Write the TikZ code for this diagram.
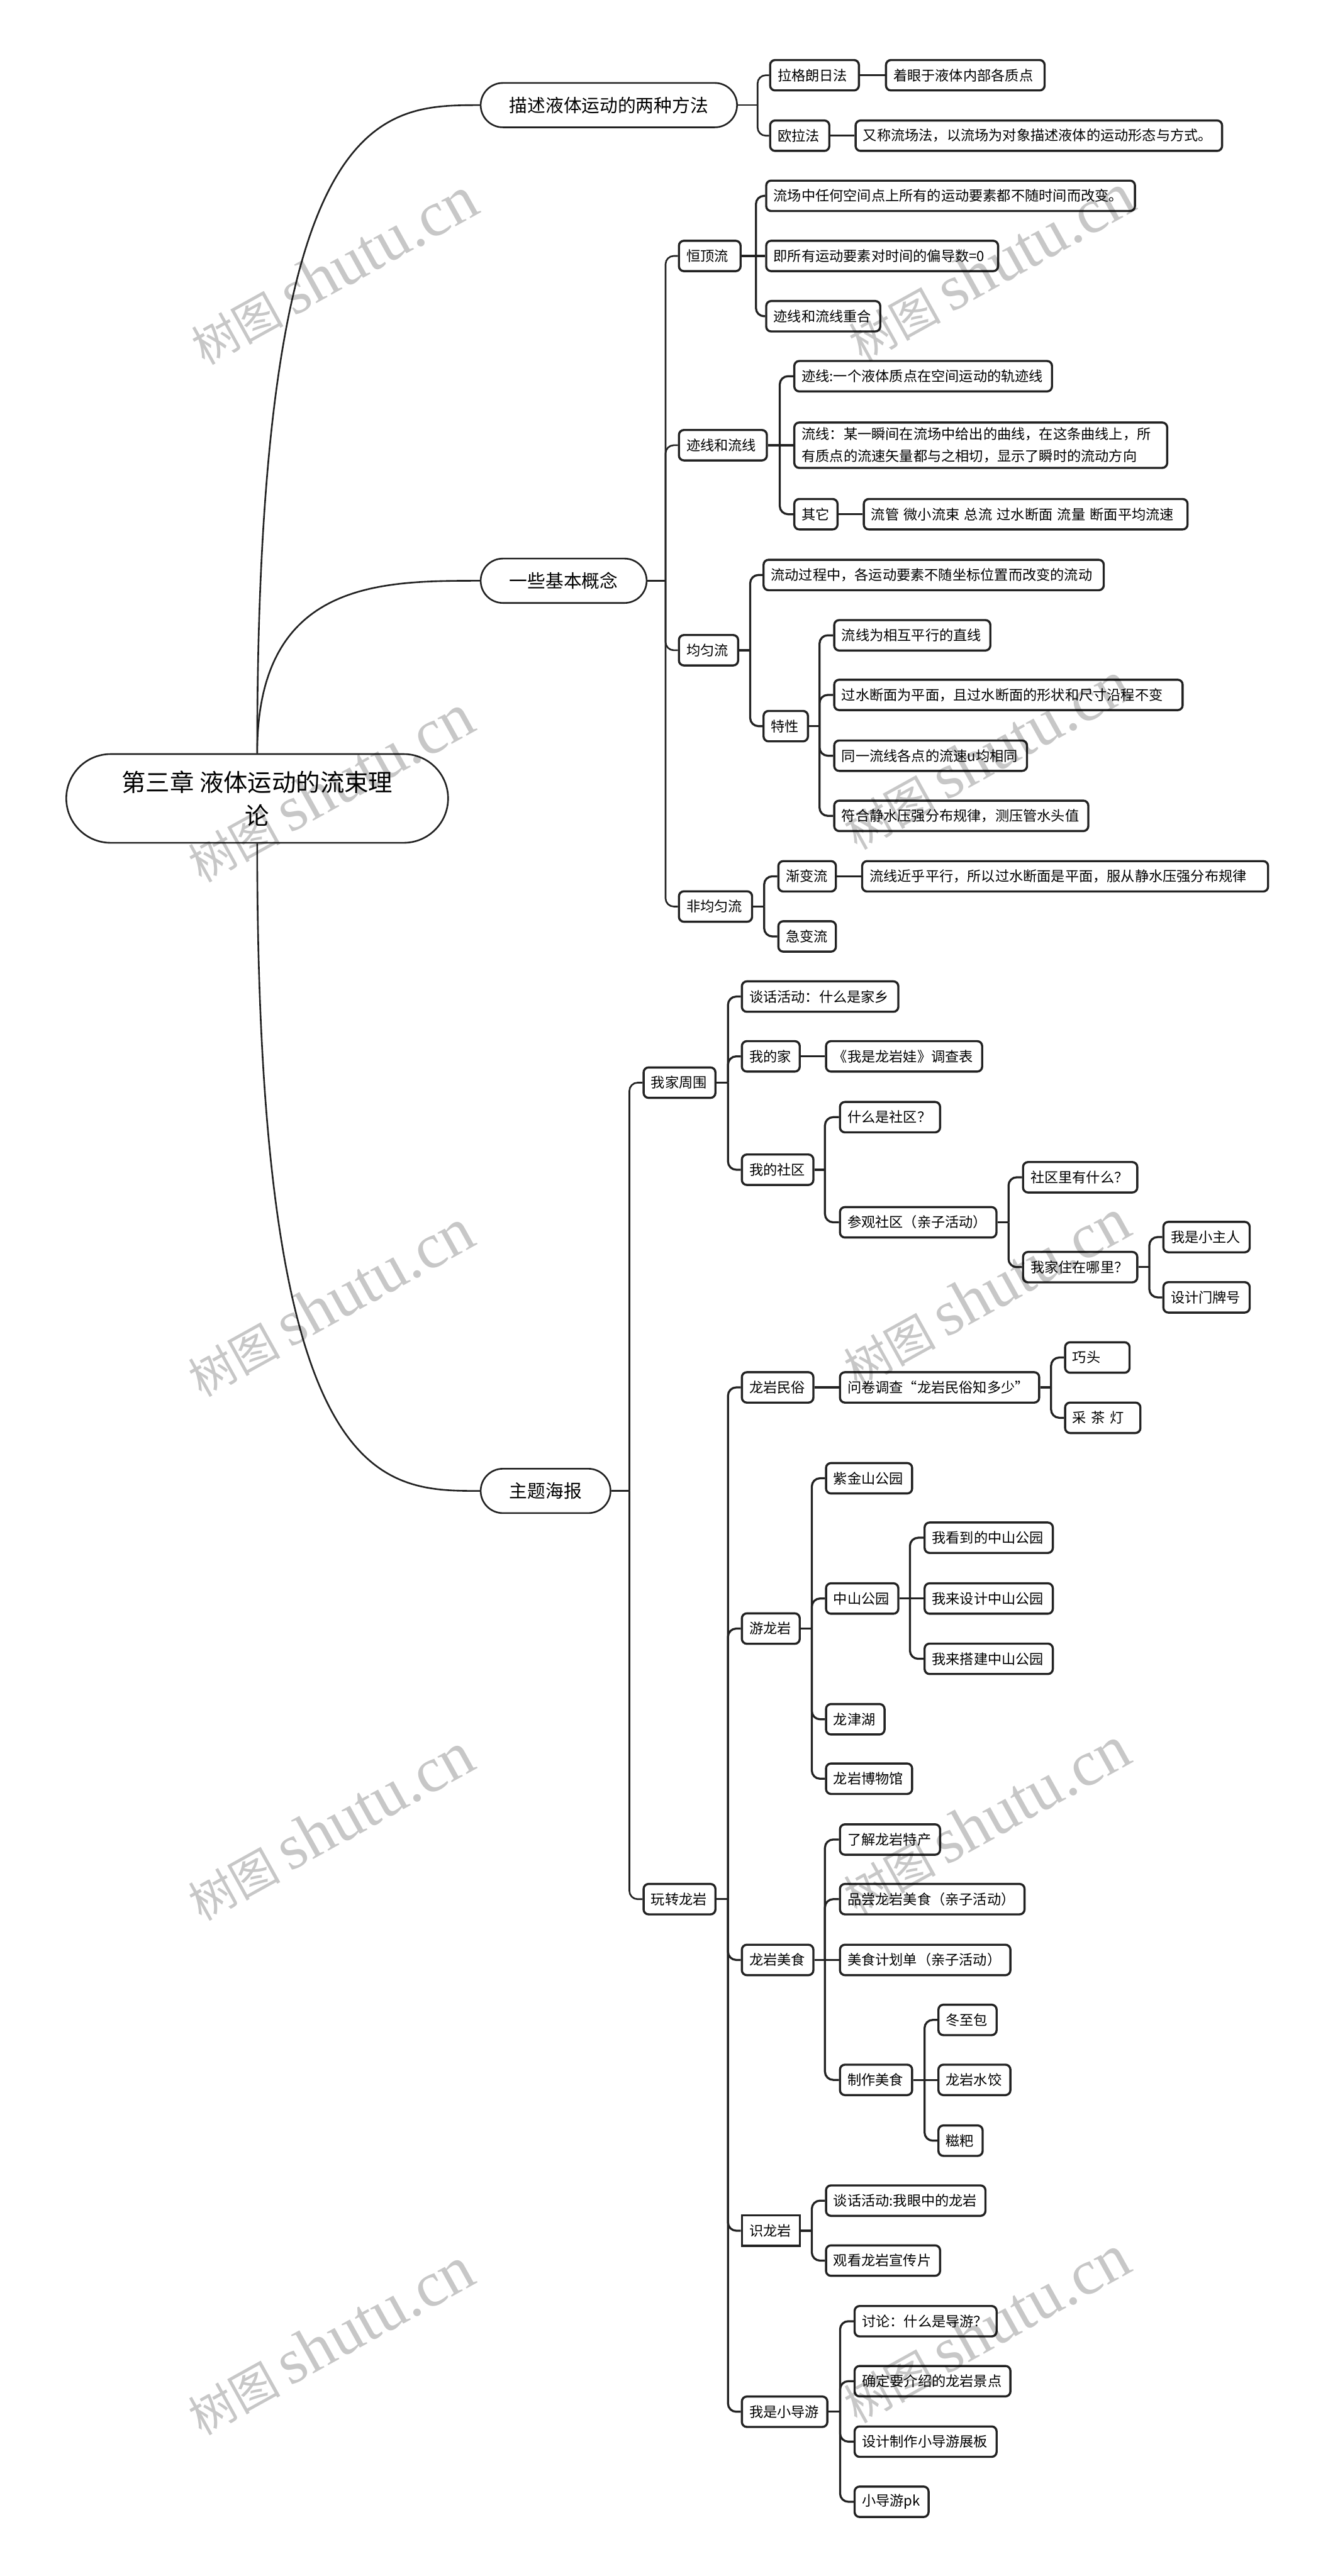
\documentclass[tikz,border=0pt]{standalone}
\usepackage{fontspec}
\setmainfont{Noto Sans CJK SC}
\newfontfamily\wmlatin{Liberation Serif}
\usetikzlibrary{shapes.misc,calc}
\definecolor{ink}{HTML}{222222}
\tikzset{
  box/.style={draw=ink, line width=1.3pt, fill=white, rounded corners=3pt,
    font=\fontsize{8.5}{13.5}\selectfont, inner xsep=4.5pt, inner ysep=3pt,
    minimum height=18.5pt, align=left, anchor=west, text=black},
  sq/.style={rounded corners=0pt},
  pill/.style={draw=ink, line width=1pt, fill=white, rounded rectangle,
    font=\fontsize{11}{13}\selectfont, minimum height=27pt, inner xsep=2pt,
    anchor=west, align=center},
  conn/.style={draw=ink, line width=1.25pt, rounded corners=5pt},
  connone/.style={draw=ink, line width=1pt, rounded corners=5pt},
  curve/.style={draw=ink, line width=1pt},
  wmark/.style={text=black, opacity=0.22, rotate=29, anchor=center},
}
\newcommand\BX[6][]{\pgfmathsetmacro\tw{#4-#3-9}\node[box,#1,text width=\tw pt] (#2) at (#3,-#5) {#6};}
\newcommand\SPN[4][conn]{%
  \coordinate (sp-#2) at (#3,0);
  \draw[#1] (#2.east) -- (#2.east -| sp-#2);
  \foreach \c in {#4}{\draw[#1] (#2.east -| sp-#2) |- (\c.west);}
}
\newcommand\DR[2]{\draw[conn] (#1.east) -- (#2.west);}
\newcommand\WM[2]{\node[wmark] at (#1,-#2) {\fontsize{28}{28}\selectfont 树图\hspace{6pt}{\wmlatin\fontsize{39}{39}\selectfont shutu.cn}};}
\begin{document}
\begin{tikzpicture}[x=1pt,y=1pt]
\useasboundingbox (0,0) rectangle (808,-1568);
\fill[white] (0,0) rectangle (808,-1568);

% root and level 1
\node[draw=ink, line width=1pt, fill=white, rounded rectangle, minimum width=239pt,
  minimum height=54pt, font=\fontsize{14.7}{20.5}\selectfont, align=center]
  (root) at (156.5,-486) {第三章 液体运动的流束理\\论};
\node[pill, minimum width=160pt] (d1) at (292,-64) {描述液体运动的两种方法};
\node[pill, minimum width=105pt] (d2) at (292,-353.5) {一些基本概念};
\node[pill, minimum width=83pt] (d3) at (292,-907.5) {主题海报};

% branch 1
\BX{a1}{468}{522}{45.8}{拉格朗日法}
\BX{a1x}{538.5}{635}{45.8}{着眼于液体内部各质点}
\BX{a2}{468}{504}{82.6}{欧拉法}
\BX{a2x}{520}{743}{82.6}{又称流场法，以流场为对象描述液体的运动形态与方式。}

% branch 2
\BX{b1}{412.5}{450}{155.8}{恒顶流}
\BX{b11}{465.6}{690}{119.2}{流场中任何空间点上所有的运动要素都不随时间而改变。}
\BX{b12}{465.6}{606.7}{155.8}{即所有运动要素对时间的偏导数=0}
\BX{b13}{465.6}{535}{192.5}{迹线和流线重合}
\BX{b2}{412.5}{466}{271}{迹线和流线}
\BX{b21}{482.7}{639.5}{229}{迹线:一个液体质点在空间运动的轨迹线}
\BX{b22}{482.7}{709.6}{271}{流线：某一瞬间在流场中给出的曲线，在这条曲线上，所\\有质点的流速矢量都与之相切，显示了瞬时的流动方向}
\BX{b23}{482.7}{509}{313}{其它}
\BX{b231}{525}{722}{313}{流管 微小流束 总流 过水断面 流量 断面平均流速}
\BX{b3}{412.5}{448.5}{395.8}{均匀流}
\BX{b31}{464}{671}{350}{流动过程中，各运动要素不随坐标位置而改变的流动}
\BX{b32}{464}{491}{442}{特性}
\BX{b321}{507}{602}{386.7}{流线为相互平行的直线}
\BX{b322}{507}{719}{423}{过水断面为平面，且过水断面的形状和尺寸沿程不变}
\BX{b323}{507}{624.3}{460}{同一流线各点的流速u均相同}
\BX{b324}{507}{661.6}{496.6}{符合静水压强分布规律，测压管水头值}
\BX{b4}{412.5}{457}{551.8}{非均匀流}
\BX{b41}{473}{508}{533.4}{渐变流}
\BX{b411}{524}{771}{533.4}{流线近乎平行，所以过水断面是平面，服从静水压强分布规律}
\BX{b42}{473}{508}{570}{急变流}

% branch 3
\BX{c1}{391}{434.7}{659}{我家周围}
\BX{c11}{450.8}{546}{606.6}{谈话活动：什么是家乡}
\BX{c12}{450.8}{486}{643}{我的家}
\BX{c121}{502}{597}{643}{《我是龙岩娃》调查表}
\BX{c13}{450.8}{494.3}{712}{我的社区}
\BX{c131}{510.5}{571.4}{680}{什么是社区？}
\BX{c132}{510.5}{605.7}{744}{参观社区（亲子活动）}
\BX{c1321}{621.9}{691.4}{716.6}{社区里有什么？}
\BX{c1322}{621.9}{691.4}{771.3}{我家住在哪里？}
\BX{c13221}{707.3}{759.8}{753}{我是小主人}
\BX{c13222}{707.3}{759.8}{789.7}{设计门牌号}

\BX{c2}{391}{434.7}{1156}{玩转龙岩}
\BX{c21}{450.8}{494.3}{844.5}{龙岩民俗}
\BX{c211}{510.5}{631.7}{844.5}{问卷调查“龙岩民俗知多少”}
\BX{c2111}{647.5}{686.7}{826.3}{巧头}
\BX{c2112}{647.5}{693.3}{863}{采 茶 灯}
\BX{c22}{450.8}{486}{991.3}{游龙岩}
\BX{c221}{502}{554.4}{899.8}{紫金山公园}
\BX{c222}{502}{546}{973}{中山公园}
\BX{c2221}{562}{640}{936}{我看到的中山公园}
\BX{c2222}{562}{640}{973}{我来设计中山公园}
\BX{c2223}{562}{640}{1009.7}{我来搭建中山公园}
\BX{c223}{502}{537.6}{1046.5}{龙津湖}
\BX{c224}{502}{554.4}{1082.7}{龙岩博物馆}
\BX{c23}{450.8}{494.3}{1193}{龙岩美食}
\BX{c231}{510.5}{571.4}{1119.7}{了解龙岩特产}
\BX{c232}{510.5}{622.8}{1156}{品尝龙岩美食（亲子活动）}
\BX{c233}{510.5}{614.2}{1193}{美食计划单（亲子活动）}
\BX{c234}{510.5}{554.4}{1266}{制作美食}
\BX{c2341}{570.4}{605.8}{1229.5}{冬至包}
\BX{c2342}{570.4}{614.2}{1266}{龙岩水饺}
\BX{c2343}{570.4}{597.3}{1303}{糍粑}
\BX[sq]{c24}{450.8}{486}{1357.8}{识龙岩}
\BX{c241}{502}{599}{1339.5}{谈话活动:我眼中的龙岩}
\BX{c242}{502}{571.4}{1376}{观看龙岩宣传片}
\BX{c25}{450.8}{502.8}{1468}{我是小导游}
\BX{c251}{519.4}{605.8}{1412.9}{讨论：什么是导游？}
\BX{c252}{519.4}{614.2}{1449.4}{确定要介绍的龙岩景点}
\BX{c253}{519.4}{605.8}{1486.2}{设计制作小导游展板}
\BX{c254}{519.4}{564.4}{1522.8}{小导游pk}

% curves from root
\draw[curve] (root.north) .. controls (root.north |- d1.west) and ($(root.north |- d1.west)!0.55!(d1.west)$) .. (d1.west);
\draw[curve] (root.north) .. controls (root.north |- d2.west) and ($(root.north |- d2.west)!0.55!(d2.west)$) .. (d2.west);
\draw[curve] (root.south) .. controls (root.south |- d3.west) and ($(root.south |- d3.west)!0.55!(d3.west)$) .. (d3.west);

% level-1 spines
\SPN[connone]{d1}{461}{a1,a2}
\SPN[connone]{d2}{405}{b1,b2,b3,b4}
\SPN[connone]{d3}{383}{c1,c2}

% branch 1 connectors
\DR{a1}{a1x}
\DR{a2}{a2x}

% branch 2 connectors
\SPN{b1}{460}{b11,b13}
\DR{b1}{b12}
\SPN{b2}{474.5}{b21,b23}
\DR{b2}{b22}
\DR{b23}{b231}
\SPN{b3}{456.5}{b31,b32}
\SPN{b32}{498.7}{b321,b322,b323,b324}
\SPN{b4}{465}{b41,b42}
\DR{b41}{b411}

% branch 3 connectors
\SPN{c1}{443}{c11,c12,c13}
\DR{c12}{c121}
\SPN{c13}{502}{c131,c132}
\SPN{c132}{613.7}{c1321,c1322}
\SPN{c1322}{699.4}{c13221,c13222}
\SPN{c2}{443}{c21,c22,c23,c24,c25}
\DR{c21}{c211}
\SPN{c211}{639.6}{c2111,c2112}
\SPN{c22}{494}{c221,c222,c223,c224}
\SPN{c222}{553.7}{c2221,c2223}
\DR{c222}{c2222}
\SPN{c23}{502}{c231,c232,c234}
\DR{c23}{c233}
\SPN{c234}{562.6}{c2341,c2343}
\DR{c234}{c2342}
\SPN{c24}{494}{c241,c242}
\SPN{c25}{511.2}{c251,c252,c253,c254}

% watermarks
\WM{203}{165}
\WM{603}{163}
\WM{201}{480}
\WM{600}{460}
\WM{201}{793}
\WM{600}{787}
\WM{201}{1112}
\WM{600}{1108}
\WM{201}{1425}
\WM{600}{1418}
\end{tikzpicture}
\end{document}
